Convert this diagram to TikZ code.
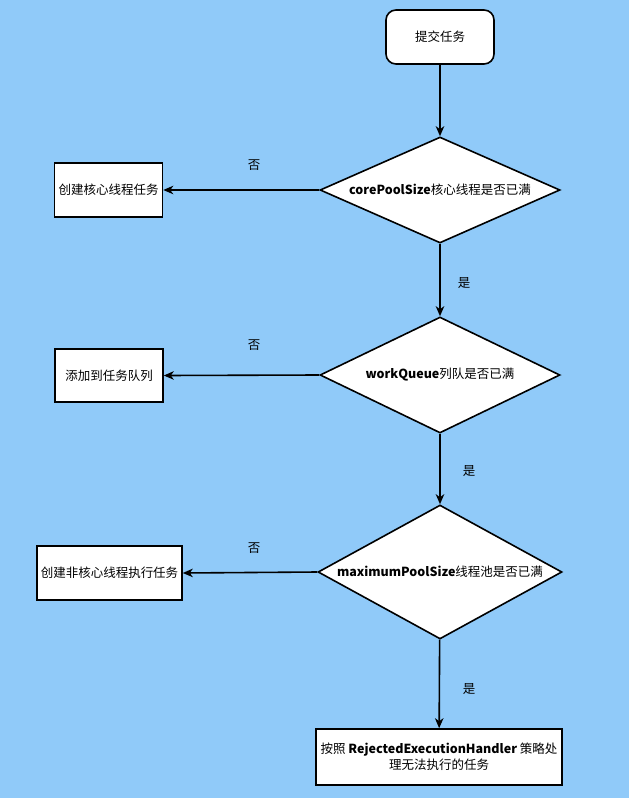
\documentclass[tikz,border=0pt]{standalone}
\usepackage{fontspec}
\setmainfont{Noto Sans CJK SC}
\usetikzlibrary{shapes.geometric,arrows.meta}
\definecolor{bg}{RGB}{144,202,249}
\begin{document}
\begin{tikzpicture}[x=1pt,y=-1pt,
  every node/.style={font=\fontsize{12.5}{16}\selectfont, text=black},
  box/.style={draw, line width=1.6pt, fill=white, inner sep=0pt, align=center},
  dia/.style={draw, shape=diamond, line width=1.6pt, fill=white, inner sep=0pt, aspect=2.2},
  conn/.style={line width=1.6pt, -{Stealth[length=10pt,width=8.5pt,inset=3pt]}},
  lbl/.style={inner sep=0pt}]
\fill[bg] (0,0) rectangle (629,798);
\useasboundingbox (0,0) rectangle (629,798);
% main column
\node[box, rounded corners=10pt, minimum width=108pt, minimum height=54pt] (start) at (440,37) {提交任务};
\node[dia, minimum width=240pt, minimum height=106pt] (d1) at (440,190) {\makebox[0pt]{\textbf{corePoolSize}核心线程是否已满}};
\node[dia, minimum width=240pt, minimum height=116pt] (d2) at (440,375) {\makebox[0pt]{\textbf{workQueue}列队是否已满}};
\node[dia, minimum width=244pt, minimum height=134pt] (d3) at (440,572) {\makebox[0pt]{\textbf{maximumPoolSize}线程池是否已满}};
\node[box, minimum width=246pt, minimum height=56pt] (reject) at (439,757) {按照 \textbf{RejectedExecutionHandler} 策略处\\理无法执行的任务};
% side boxes
\node[box, minimum width=108pt, minimum height=54pt] (b1) at (108.5,190) {创建核心线程任务};
\node[box, minimum width=108pt, minimum height=53pt] (b2) at (109,375.5) {添加到任务队列};
\node[box, minimum width=145pt, minimum height=54pt] (b3) at (109.5,573) {创建非核心线程执行任务};
% connectors
\draw[conn] (start) -- (d1);
\draw[conn] (d1) -- (d2);
\draw[conn] (d2) -- (d3);
\draw[conn] (d3) -- (reject);
\draw[conn] (d1.west) -- (b1.east);
\draw[conn] (d2.west) -- (b2.east);
\draw[conn] (d3.west) -- (b3.east);
% labels
\node[lbl] (n1) at (254,165) {否};
\node[lbl] (n2) at (254,345) {否};
\node[lbl] (n3) at (254,548) {否};
\node[lbl] (y1) at (464,283) {是};
\node[lbl] (y2) at (469,471) {是};
\node[lbl] (y3) at (469,689) {是};
\end{tikzpicture}
\end{document}
